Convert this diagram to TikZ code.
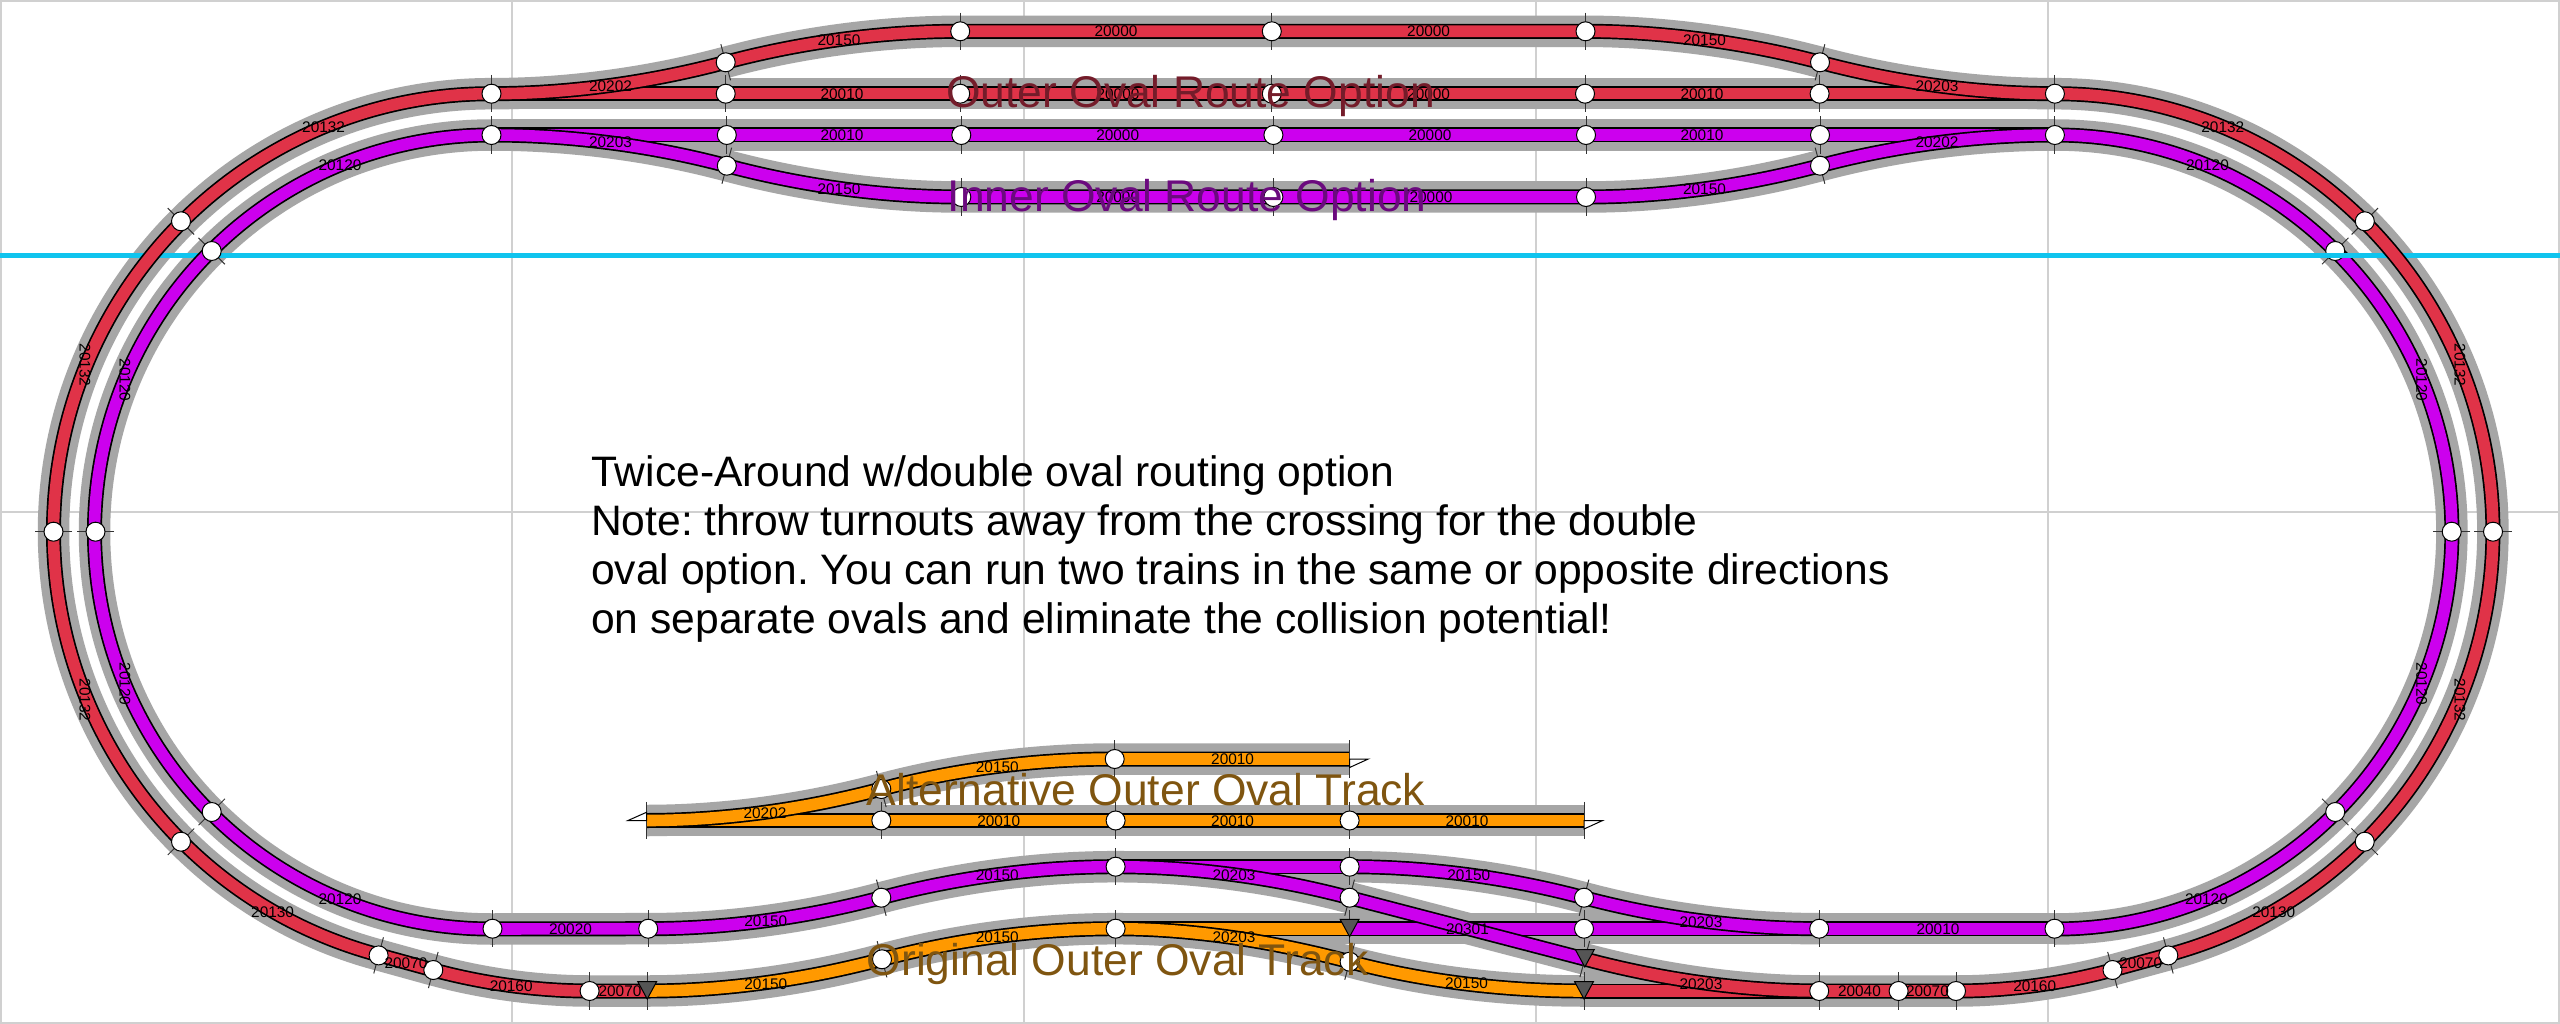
\documentclass[tikz,border=0pt]{standalone}
\usepackage{fontspec}
\setmainfont{Liberation Sans}
\definecolor{gridc}{HTML}{D0D0D0}
\definecolor{bandc}{HTML}{A6A6A6}
\definecolor{redt}{HTML}{E03348}
\definecolor{purt}{HTML}{CC00EE}
\definecolor{orat}{HTML}{FF9900}
\definecolor{skyc}{HTML}{10C4EE}
\definecolor{tric}{HTML}{555555}
\definecolor{redl}{HTML}{741C2A}
\definecolor{purl}{HTML}{6B0A7E}
\definecolor{oral}{HTML}{7F5510}
\tikzset{
  gridline/.style={draw=gridc,line width=1.2pt},
  band/.style={draw=bandc,line width=31.5pt},
  edge/.style={draw=black,line width=15pt},
  core/.style={draw=#1,line width=11.6pt},
  tickline/.style={draw=black!80,line width=1pt},
  jn/.style={circle,draw=black,line width=1pt,fill=white,minimum size=19pt,inner sep=0pt},
  lab/.style={font=\fontsize{15.4}{15.4}\selectfont,inner sep=0pt},
  big/.style={font=\fontsize{44.4}{44.4}\selectfont,anchor=base west,inner sep=0pt},
  tridark/.style={draw=black,line width=1pt,fill=tric},
  triend/.style={draw=black,line width=1pt,fill=white},
}
% one track piece: black edge, then coloured core
\newcommand{\tracklay}[2]{\draw[edge] #2; \draw[core=#1] #2;}
\def\juncs{r1/491.5/93.7/90,r2/725.7/93.7/90,r3/725.7/62.3/105,r4/960.2/31.3/90,r5/1271.8/31.3/90,r6/1585.5/31.3/90,r7/1820/62.3/75,r8/1819.6/93.7/90,r9/2054.9/93.7/90,r10/960.2/93.7/90,r11/1271.8/93.7/90,r12/1585/93.7/90,
r13/181/221.3/135,r14/53.5/531.7/0,r15/181/841.7/45,r16/378.6/955.4/75,r17/433.3/970/75,r18/589.6/991/90,r19/1819.2/991/90,r20/1898.6/991/90,r21/1956/991/90,r22/2112.5/970/105,r23/2168.3/955.4/105,r24/2364.7/841.7/135,r25/2493/531.7/0,r26/2364.8/221.3/45,
p1/491.5/135/90,p2/726.8/135/90,p3/726.8/165.7/75,p4/961.3/135/90,p5/1273.4/135/90,p6/1586/135/90,p7/1820/135/90,p8/2054.9/135/90,p9/961.3/197/90,p10/1273.4/197/90,p11/1586/197/90,p12/1820/165.7/105,
p13/211.7/251/135,p14/95.5/531.7/0,p15/211.7/812/45,p16/492.5/928.7/90,p17/648.2/928.7/90,p18/881.3/897.7/105,p19/1115.6/866.7/90,p20/1349.6/866.7/90,p21/1349.6/897.7/75,p22/1584/897.7/75,p23/1584/928.7/90,p24/1819.2/928.7/90,p25/2054.5/928.7/90,p26/2335.2/812/135,p27/2451.7/531.7/0,
o1/882/959.3/105,o2/1115.6/928.7/90,o3/1349.6/961.7/75,
a1/881.3/789/105,a2/881.3/820.5/90,a3/1114.7/759/90,a4/1115.6/820.5/90,a6/1349.6/820.5/90}
\begin{document}
\begin{tikzpicture}[x=1pt,y=-1pt]
\frenchspacing
\useasboundingbox (0,0) rectangle (2560,1024);
\fill[white] (0,0) rectangle (2560,1024);
% grid
\foreach \gx [count=\i] in {1,512,1024,1536,2048,2559}
  \draw[gridline] (\gx,0) -- (\gx,1024);
\foreach \gy in {1,512,1023}
  \draw[gridline] (0,\gy) -- (2560,\gy);
% track coordinates
\foreach \nm/\x/\y/\a in \juncs { \coordinate (\nm) at (\x,\y); }
\coordinate (p28) at (2335.2,251);
\coordinate (t1) at (647.2,991);
\coordinate (t2) at (1349.6,928.7);
\coordinate (t3) at (1584,991);
\coordinate (t4) at (1584.8,959);
\coordinate (a0) at (646.7,820.5);
\coordinate (a5) at (1349.6,759);
\coordinate (a7) at (1584,820.5);
% curve pieces
\def\sRedTop{(r1) -- (r2) -- (r10) -- (r11) -- (r12) -- (r8) -- (r9)}
\def\cRedTopA{(r1) .. controls +(78,0) and +(-75,20) .. (r3)}
\def\cRedTopB{(r3) .. controls +(75,-20) and +(-78,0) .. (r4) -- (r5) -- (r6) .. controls +(75,0) and +(-75,-20) .. (r7)}
\def\cRedTopC{(r7) .. controls +(75,20) and +(-78,0) .. (r9)}
\def\aRedL{(r1) arc[start angle=90,end angle=255,radius=438pt] -- (r17) .. controls +(50,13.5) and +(-52,0) .. (r18) -- (t1)}
\def\aRedR{(r9) arc[start angle=90,end angle=-75,radius=438pt] -- (r22) .. controls +(-50,13.5) and +(52,0) .. (r21) -- (r20) -- (r19)}
\def\sPurTop{(p1) -- (p2) -- (p4) -- (p5) -- (p6) -- (p7) -- (p8)}
\def\cPurTop{(p1) .. controls +(78,0) and +(-75,-20) .. (p3) .. controls +(75,20) and +(-78,0) .. (p9) -- (p10) -- (p11) .. controls +(78,0) and +(-75,20) .. (p12) .. controls +(75,-20) and +(-78,0) .. (p8)}
\def\aPurL{(p1) arc[start angle=90,end angle=270,radius=397pt] -- (p17) .. controls +(78,0) and +(-75,20) .. (p18) .. controls +(75,-20) and +(-78,0) .. (p19)}
\def\aPurR{(p8) arc[start angle=90,end angle=-90,radius=397pt]}
\def\sPurMid{(p19) -- (p20)}
\def\cPurMid{(p20) .. controls +(78,0) and +(-75,-20) .. (p22) .. controls +(75,20) and +(-78,0) .. (p24)}
\def\cPurTurn{(p19) .. controls +(78,0) and +(-75,-20) .. (p21)}
\def\sPurCross{(t2) -- (p23) -- (p24) -- (p25)}
\def\dPurCross{(p21) -- (t4)}
\def\sOra{(o2) -- (t2)}
\def\cOraA{(t1) .. controls +(78,0) and +(-75,20) .. (o1) .. controls +(75,-20) and +(-78,0) .. (o2)}
\def\cOraB{(o2) .. controls +(78,0) and +(-75,-20) .. (o3) .. controls +(75,20) and +(-78,0) .. (t3)}
\def\sRedB{(t3) -- (r19)}
\def\cRedB{(t4) .. controls +(75,20) and +(-78,0) .. (r19)}
\def\sAlt{(a0) -- (a2) -- (a4) -- (a6) -- (a7)}
\def\cAlt{(a0) .. controls +(78,0) and +(-75,20) .. (a1) .. controls +(75,-20) and +(-78,0) .. (a3) -- (a5)}
% grey bands
\foreach \pp in {\sRedTop,\cRedTopA,\cRedTopB,\cRedTopC,\aRedL,\aRedR,\sPurTop,\cPurTop,\aPurL,\aPurR,\sPurMid,\cPurMid,\cPurTurn,\sPurCross,\dPurCross,\sOra,\cOraA,\cOraB,\sRedB,\cRedB,\sAlt,\cAlt}
  { \draw[band] \pp; }
% right purple arc and its upper joint lie under the sky line
\tracklay{purt}{\aPurR}
\draw[tickline] ([shift={(45:18.7pt)}]p28) -- ([shift={(225:18.7pt)}]p28);
\node[jn] (np28) at (p28) {};
\draw[draw=skyc,line width=4.5pt] (0,255.7) -- (2560,255.7);
% tracks
\tracklay{orat}{\sAlt}
\tracklay{orat}{\cAlt}
\tracklay{orat}{\cOraA}
\tracklay{orat}{\sOra}
\tracklay{orat}{\cOraB}
\tracklay{redt}{\sRedTop}
\tracklay{redt}{\cRedTopA}
\tracklay{redt}{\cRedTopB}
\tracklay{redt}{\cRedTopC}
\tracklay{redt}{\aRedL}
\tracklay{redt}{\aRedR}
\tracklay{redt}{\sRedB}
\tracklay{redt}{\cRedB}
\tracklay{purt}{\sPurTop}
\tracklay{purt}{\cPurTop}
\tracklay{purt}{\aPurL}
\tracklay{purt}{\sPurMid}
\tracklay{purt}{\sPurCross}
\tracklay{purt}{\cPurMid}
\tracklay{purt}{\cPurTurn}
\tracklay{purt}{\dPurCross}
% joints
\foreach \nm/\x/\y/\a in \juncs {
  \draw[tickline] ([shift={(\a:18.7pt)}]\nm) -- ([shift={(\a+180:18.7pt)}]\nm);
  \node[jn] (n\nm) at (\nm) {};
}
% dark wedge joints
\foreach \nm/\a in {t1/90,t2/90,t3/90,t4/75} {
  \draw[tickline] ([shift={(\a:18.7pt)}]\nm) -- ([shift={(\a+180:18.7pt)}]\nm);
  \draw[tridark] ([shift={(-9.4,-9.3)}]\nm) -- ([shift={(9.4,-9.3)}]\nm) -- ([shift={(0,8)}]\nm) -- cycle;
}
% open ends of the alternative track
\foreach \nm in {a0,a5,a7}
  \draw[tickline] ([shift={(90:18.7pt)}]\nm) -- ([shift={(270:18.7pt)}]\nm);
\draw[triend] (a0) -- ([shift={(0,-8.3)}]a0) -- ([shift={(-18.7,0)}]a0) -- cycle;
\draw[triend] (a5) -- ([shift={(18.7,0)}]a5) -- ([shift={(0,8.5)}]a5) -- cycle;
\draw[triend] (a7) -- ([shift={(18.7,0)}]a7) -- ([shift={(0,8.5)}]a7) -- cycle;
% part labels
\foreach \x/\y/\t [count=\i] in {
 610.5/86.7/20202,610.5/142.7/20203,323.6/127/20132,340/165.7/20120,839/40/20150,842/94/20010,842/135/20010,839/189/20150,
 1116/31.7/20000,1428.6/31.7/20000,1118/94/20000,1428.6/94/20000,1117.7/135/20000,1430/135/20000,1117.7/197/20000,1431/197/20000,
 1702/94/20010,1702/135/20010,1704.5/40/20150,1704.5/189/20150,1937/86.7/20203,1937/142.7/20202,2222.8/127/20132,2207.4/165.7/20120,
 272.6/912/20130,340/899/20120,406/963.3/20070,511.2/986/20160,620/991/20070,570.5/929/20020,765.8/921.3/20150,765.8/984/20150,765/813.3/20202,
 997.3/766.7/20150,998.7/820.7/20010,1232.6/759/20010,1232.6/820.7/20010,997.3/874.7/20150,1234/874.7/20203,997.3/937.3/20150,1234/937.3/20203,
 1467/821/20010,1468.8/875/20150,1467.4/929.3/20301,1466.5/983.3/20150,1700.9/921.7/20203,1700.9/984/20203,1859.4/991/20040,1938/929/20010,1927.4/991/20070,2034.7/986/20160,2140.7/963/20070,2206.4/899/20120,2273.7/911.7/20130}
  \node[lab] (lab\i) at (\x,\y) {\t};
\foreach \x/\y/\t [count=\i] in {85/365/20132,125/380/20120,85/700/20132,125/684/20120,2460/365/20132,2421.7/380/20120,2460/700/20132,2421.7/684/20120}
  \node[lab,rotate=-90] (vlab\i) at (\x,\y) {\t};
% titles
\node[big,text=redl] (toa) at (946,108) {Outer Oval Route Option};
\node[big,text=purl] (toi) at (947.6,212) {Inner Oval Route Option};
\node[big,text=oral] (taa) at (866.5,805) {Alternative Outer Oval Track};
\node[big,text=oral] (tor) at (866.5,975) {Original Outer Oval Track};
\node[anchor=north west,inner sep=0pt,align=left,font=\fontsize{42.6}{49}\selectfont] (note) at (591,455)
 {Twice-Around w/double oval routing option\\Note: throw turnouts away from the crossing for the double\\oval option. You can run two trains in the same or opposite directions\\on separate ovals and eliminate the collision potential!};
\end{tikzpicture}
\end{document}
